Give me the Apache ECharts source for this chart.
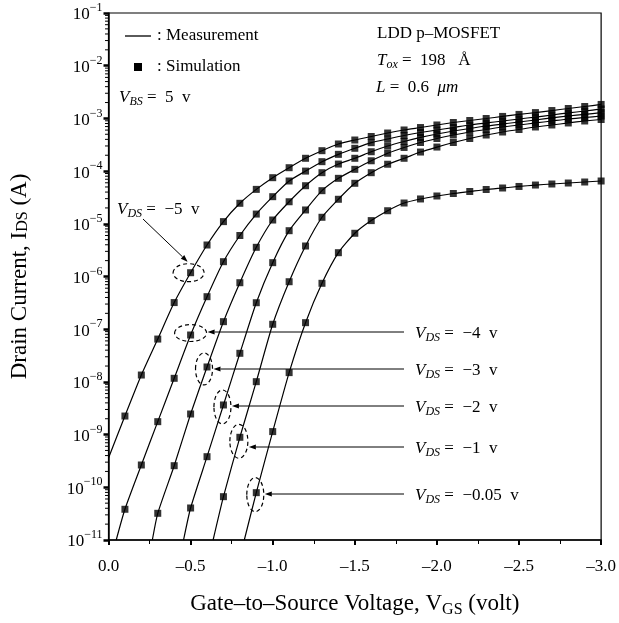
<!DOCTYPE html>
<html>
<head>
<meta charset="utf-8">
<script src="https://cdn.jsdelivr.net/npm/echarts@6/dist/echarts.min.js"></script>
<style>
html, body { margin: 0; padding: 0; background: #fff; }
#chart { width: 619px; height: 623px; }
</style>
</head>
<body>
<div id="chart"></div>
<script>
// gate-source voltage of the simulated points (V)
var vgs = [-0.1, -0.2, -0.3, -0.4, -0.5, -0.6, -0.7, -0.8, -0.9, -1.0,
           -1.1, -1.2, -1.3, -1.4, -1.5, -1.6, -1.7, -1.8, -1.9, -2.0,
           -2.1, -2.2, -2.3, -2.4, -2.5, -2.6, -2.7, -2.8, -2.9, -3.0];

// drain current (A), one array per VDS, starting at the vgs index in idsStart
var ids5 = [2.25e-9, 1.35e-8, 6.5e-8, 3.2e-7, 1.18e-6, 3.96e-6, 1.10e-5, 2.45e-5, 4.5e-5, 7.5e-5,
            1.16e-4, 1.75e-4, 2.44e-4, 3.27e-4, 3.89e-4, 4.54e-4, 5.28e-4, 6.03e-4, 6.71e-4, 7.50e-4,
            8.36e-4, 9.12e-4, 9.95e-4, 1.09e-3, 1.19e-3, 1.29e-3, 1.41e-3, 1.54e-3, 1.68e-3, 1.84e-3];
var ids4 = [3.83e-11, 2.65e-10, 1.76e-9, 1.17e-8, 7.76e-8, 4.14e-7, 1.91e-6, 6.0e-6, 1.53e-5, 3.27e-5,
            6.49e-5, 1.0e-4, 1.51e-4, 2.08e-4, 2.71e-4, 3.46e-4, 4.06e-4, 4.74e-4, 5.40e-4, 6.03e-4,
            6.71e-4, 7.50e-4, 8.19e-4, 8.93e-4, 9.75e-4, 1.06e-3, 1.16e-3, 1.27e-3, 1.38e-3, 1.51e-3];
var ids3 = [3.21e-11, 2.57e-10, 2.46e-9, 1.92e-8, 1.39e-7, 7.62e-7, 3.58e-6, 1.18e-5,
            2.62e-5, 5.28e-5, 9.33e-5, 1.36e-4, 1.75e-4, 2.33e-4, 2.99e-4, 3.65e-4, 4.35e-4, 5.06e-4,
            5.77e-4, 6.43e-4, 7.18e-4, 7.83e-4, 8.55e-4, 9.33e-4, 1.02e-3, 1.11e-3, 1.19e-3, 1.29e-3];
var ids2 = [4.05e-11, 3.81e-10, 3.65e-9, 3.49e-8, 3.18e-7, 1.83e-6,
            7.40e-6, 1.83e-5, 4.25e-5, 7.29e-5, 1.08e-4, 1.57e-4, 2.18e-4, 2.81e-4, 3.49e-4, 4.16e-4,
            4.84e-4, 5.52e-4, 6.15e-4, 6.87e-4, 7.50e-4, 8.19e-4, 8.93e-4, 9.75e-4, 1.04e-3, 1.11e-3];
var ids1 = [6.64e-11, 8.89e-10, 1.01e-8, 1.24e-7,
            7.96e-7, 3.79e-6, 1.33e-5, 2.92e-5, 5.87e-5, 9.33e-5, 1.35e-4, 1.75e-4, 2.30e-4, 2.86e-4,
            3.49e-4, 4.16e-4, 4.84e-4, 5.52e-4, 6.15e-4, 6.87e-4, 7.50e-4, 8.19e-4, 8.93e-4, 9.53e-4];
var ids005 = [7.91e-11, 1.14e-9,
            1.50e-8, 1.33e-7, 7.43e-7, 2.83e-6, 6.61e-6, 1.15e-5, 1.77e-5, 2.48e-5, 2.96e-5, 3.37e-5,
            3.76e-5, 4.10e-5, 4.48e-5, 4.78e-5, 5.11e-5, 5.44e-5, 5.69e-5, 5.94e-5, 6.21e-5, 6.49e-5];
var idsStart = [0, 0, 2, 4, 6, 8];

// where each measured line enters the plot
var lineStartVgs = [0, -0.047, -0.267, -0.457, -0.637, -0.827];
var lineStartIds = [3.6e-10, 1e-11, 1e-11, 1e-11, 1e-11, 1e-11];

var vdsLabels = ['−5', '−4', '−3', '−2', '−1', '−0.05'];

// log axis minor ticks (decade exponents and multipliers)
var decades = [-11, -10, -9, -8, -7, -6, -5, -4, -3, -2];
var minorMult = [2, 3, 4, 5, 6, 7, 8, 9];

var SERIF = '"Liberation Serif", "Times New Roman", serif';
var chart = echarts.init(document.getElementById('chart'));

var curves = [ids5, ids4, ids3, ids2, ids1, ids005];
function pairs(ids, off) {
    var out = [];
    for (var k = 0; k < ids.length; k++) {
        out.push([vgs[off + k], ids[k]]);
    }
    return out;
}

var series = [];
curves.forEach(function (ids, n) {
    var pts = pairs(ids, idsStart[n]);
    series.push({
        type: 'line',
        name: 'Measurement',
        data: [[lineStartVgs[n], lineStartIds[n]]].concat(pts),
        smooth: 0.2,
        symbol: 'none',
        silent: true,
        z: 2,
        lineStyle: {color: '#000', width: 1.2}
    });
    series.push({
        type: 'scatter',
        name: 'Simulation',
        data: pts,
        symbol: 'rect',
        symbolSize: 7,
        silent: true,
        z: 3,
        itemStyle: {color: '#000'}
    });
});

// minor ticks of the log axis, placed through the axis scale
series.push({
    type: 'custom',
    silent: true,
    clip: false,
    z: 5,
    data: [[0, 1e-6]],
    renderItem: function (params, api) {
        var children = [];
        decades.forEach(function (e) {
            minorMult.forEach(function (m) {
                var p = api.coord([0, m * Math.pow(10, e)]);
                children.push({type: 'line', shape: {x1: p[0] - 3.5, y1: p[1], x2: p[0], y2: p[1]},
                    style: {stroke: '#000', lineWidth: 1}});
            });
        });
        return {type: 'group', children: children};
    }
});

var option = {
    animation: false,
    backgroundColor: '#fff',
    grid: {
        left: 105, right: 13, top: 13, bottom: 83,
        show: true, borderColor: '#000', borderWidth: 1.2
    },
    xAxis: {
        type: 'value',
        min: -3, max: 0, interval: 0.5,
        inverse: true,
        name: '{n|Gate–to–Source Voltage, V}{sub|GS}{n| (volt)}',
        nameLocation: 'middle',
        nameGap: 50,
        nameTextStyle: {
            rich: {
                n: {fontFamily: SERIF, fontSize: 23, color: '#000', lineHeight: 28},
                sub: {fontFamily: SERIF, fontSize: 16, color: '#000', lineHeight: 16, verticalAlign: 'bottom'}
            }
        },
        axisLine: {onZero: false, lineStyle: {color: '#000', width: 1.5}},
        axisTick: {inside: false, length: 5, lineStyle: {color: '#000', width: 2}},
        minorTick: {show: true, splitNumber: 2, length: 4, lineStyle: {color: '#000', width: 1}},
        splitLine: {show: false},
        axisLabel: {
            margin: 18,
            fontFamily: SERIF, fontSize: 17, color: '#000',
            formatter: function (v) {
                return v === 0 ? '0.0' : '–' + Math.abs(v).toFixed(1);
            }
        }
    },
    yAxis: {
        type: 'log',
        logBase: 10,
        min: 1e-11, max: 1e-1,
        interval: 1,
        name: '{n|Drain Current, I}{sc|DS}{n| (A)}',
        nameLocation: 'middle',
        nameGap: 75,
        nameTextStyle: {
            rich: {
                n: {fontFamily: SERIF, fontSize: 23, color: '#000', lineHeight: 28},
                sc: {fontFamily: SERIF, fontSize: 16, color: '#000', lineHeight: 16, verticalAlign: 'bottom', padding: [0, 0, 3, 0]}
            }
        },
        axisLine: {onZero: false, lineStyle: {color: '#000', width: 1.5}},
        axisTick: {inside: false, length: 5, lineStyle: {color: '#000', width: 2.5}},
        minorTick: {show: false},
        splitLine: {show: false},
        axisLabel: {
            margin: 6,
            formatter: function (v) {
                var e = Math.round(Math.log(v) / Math.LN10);
                return '{b|10}{s|' + (e < 0 ? '−' : '') + Math.abs(e) + '}';
            },
            rich: {
                b: {fontFamily: SERIF, fontSize: 17, color: '#000', lineHeight: 22, padding: [4, 0, 0, 0]},
                s: {fontFamily: SERIF, fontSize: 12, color: '#000', lineHeight: 12, verticalAlign: 'top'}
            }
        }
    },
    series: series
};
chart.setOption(option);

// ---- annotations ----
var tRich = {
    i: {fontFamily: SERIF, fontSize: 17, fontStyle: 'italic', fill: '#000', lineHeight: 20},
    n: {fontFamily: SERIF, fontSize: 17, fill: '#000', lineHeight: 20},
    sub: {fontFamily: SERIF, fontSize: 12, fontStyle: 'italic', fill: '#000', lineHeight: 12, verticalAlign: 'bottom'}
};
function txt(x, y, s) {
    return {type: 'text', x: x, y: y, silent: true,
        style: {text: s, rich: tRich, fill: '#000', align: 'left', verticalAlign: 'middle'}};
}
function arrow(x1, y1, x2, y2) {
    var a = Math.atan2(y2 - y1, x2 - x1), L = 7, W = 2.5;
    var bx = x2 - L * Math.cos(a), by = y2 - L * Math.sin(a);
    return [
        {type: 'line', silent: true, shape: {x1: x1, y1: y1, x2: bx, y2: by}, style: {stroke: '#000', lineWidth: 1}},
        {type: 'polygon', silent: true, shape: {points: [[x2, y2],
            [bx - W * Math.sin(a), by + W * Math.cos(a)],
            [bx + W * Math.sin(a), by - W * Math.cos(a)]]}, style: {fill: '#000'}}
    ];
}

// circled points: index into each curve, ellipse radii and offsets
var circleIdx = [4, 4, 3, 2, 1, 0];
var ellRx = [15.5, 16, 8.5, 8.5, 9, 8.5];
var ellRy = [9, 8.5, 16, 17, 17, 17];
var ellDx = [-2, 0, -3, -1, -1, -1];
var ellDy = [0, -2, 2, 2, 4, 2];
var labelY = [210, 333, 370, 407, 448, 495];

var g = [];
// legend block
g.push({type: 'line', silent: true, shape: {x1: 125, y1: 36, x2: 151, y2: 36}, style: {stroke: '#000', lineWidth: 1.3}});
g.push({type: 'rect', silent: true, shape: {x: 134, y: 63, width: 8, height: 8}, style: {fill: '#000'}});
g.push(txt(157, 36, '{n|: Measurement}'));
g.push(txt(157, 67, '{n|: Simulation}'));
g.push(txt(119, 98, '{i|V}{sub|BS}{n| =  5  v}'));
g.push(txt(377, 34, '{n|LDD p–MOSFET}'));
g.push(txt(377, 61, '{i|T}{sub|ox}{n| =  198   Å}'));
g.push(txt(376, 88, '{i|L}{n| =  0.6  }{i|μm}'));

curves.forEach(function (ids, n) {
    var k = circleIdx[n];
    var p = chart.convertToPixel({xAxisIndex: 0, yAxisIndex: 0}, [vgs[idsStart[n] + k], ids[k]]);
    var cx = p[0] + ellDx[n], cy = p[1] + ellDy[n];
    g.push({type: 'ellipse', silent: true, shape: {cx: cx, cy: cy, rx: ellRx[n], ry: ellRy[n]},
        style: {fill: null, stroke: '#000', lineWidth: 1.2, lineDash: [4, 3]}});
    var label = '{i|V}{sub|DS}{n| =  ' + vdsLabels[n] + '  v}';
    if (n === 0) {
        g.push(txt(117, labelY[n], label));
        g = g.concat(arrow(143, 219, cx - 1, cy - ellRy[n] - 2));
    } else {
        g.push(txt(415, labelY[n] + 1, label));
        g = g.concat(arrow(404, labelY[n] - 1, cx + ellRx[n] + 1, labelY[n] - 1));
    }
});

chart.setOption({graphic: g});
</script>
</body>
</html>
